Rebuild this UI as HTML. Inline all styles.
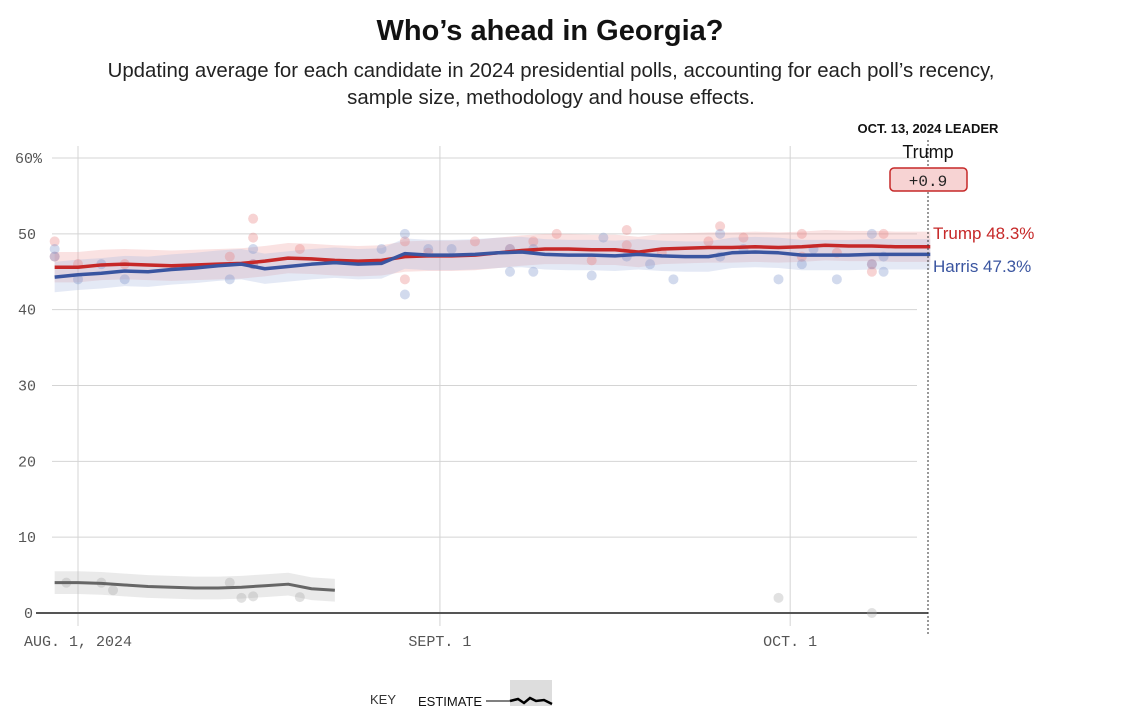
<!DOCTYPE html>
<html><head><meta charset="utf-8"><style>
body{margin:0;background:#fff;width:1129px;height:706px;overflow:hidden;font-family:"Liberation Sans",sans-serif}
svg{position:absolute;left:0;top:0}
</style></head><body>
<svg width="1129" height="706">
<text x="550" y="40" text-anchor="middle" font-size="29" font-weight="bold" fill="#121212">Who’s ahead in Georgia?</text>
<text x="551" y="77" text-anchor="middle" font-size="20.4" fill="#222">Updating average for each candidate in 2024 presidential polls, accounting for each poll’s recency,</text>
<text x="551" y="104" text-anchor="middle" font-size="20.4" fill="#222">sample size, methodology and house effects.</text>
<g id="grid"></g>
<g id="bands"></g>
<g id="dots"></g>
<g id="lines"></g>
<line x1="928" y1="140" x2="928" y2="636" stroke="#333" stroke-dasharray="2,2"/>
<text x="928" y="133" text-anchor="middle" font-size="13" font-weight="bold" fill="#121212">OCT. 13, 2024 LEADER</text>
<text x="928" y="158" text-anchor="middle" font-size="18" fill="#121212">Trump</text>
<rect x="890" y="168" width="77" height="23" rx="4" fill="#f7d3d3" stroke="#c62828" stroke-width="1.5"/>
<text x="928" y="186" text-anchor="middle" font-size="16" font-family="Liberation Mono,monospace" fill="#222">+0.9</text>
<text x="933" y="239" font-size="17" fill="#c62828">Trump 48.3%</text>
<text x="933" y="272" font-size="17" fill="#3a55a0">Harris 47.3%</text>
<text x="370" y="704" font-size="13" fill="#333">KEY</text>
<text x="418" y="706" font-size="13" fill="#121212">ESTIMATE</text>
<line x1="486" y1="701" x2="510" y2="701" stroke="#000"/>
<rect x="510" y="680" width="42" height="26" fill="#ddd"/>
<polyline points="510,701 518,699 524,703 530,698 536,701 544,700 552,704" fill="none" stroke="#000" stroke-width="2.5"/>
</svg>
<script>
const trumpAvg=[45.6,45.6,45.9,46.0,45.9,45.8,45.9,46.0,46.1,46.4,46.8,46.7,46.5,46.4,46.5,47.0,47.1,47.1,47.2,47.5,47.8,48.0,48.0,47.9,47.9,47.6,48.0,48.1,48.2,48.2,48.3,48.2,48.3,48.5,48.4,48.4,48.3,48.3];
const harrisAvg=[44.3,44.6,44.8,45.1,45.0,45.3,45.5,45.8,46.0,45.4,45.7,46.0,46.2,46.0,46.1,47.4,47.2,47.2,47.3,47.5,47.6,47.3,47.2,47.2,47.1,47.3,47.1,47.0,47.0,47.5,47.6,47.5,47.2,47.2,47.2,47.3,47.3,47.3];
const otherAvg=[4.0,4.0,3.9,3.7,3.5,3.4,3.3,3.3,3.4,3.6,3.8,3.2,3.0];
const trumpPolls=[[-2,49],[-2,47],[0,46],[4,46],[13,47],[15,52],[15,49.5],[15,46],[19,48],[28,49],[28,44],[30,47.5],[34,49],[37,48],[39,49],[41,50],[44,46.5],[47,50.5],[47,48.5],[50,47.5],[54,49],[55,51],[57,49.5],[62,50],[62,47],[65,47.5],[68,46],[68,45],[69,50]];
const harrisPolls=[[-2,48],[-2,47],[0,44],[2,46],[4,44],[13,44],[15,48],[15,46],[26,48],[28,50],[28,42],[30,48],[32,48],[37,48],[37,45],[39,48],[39,45],[44,44.5],[45,49.5],[47,47],[49,46],[51,44],[55,50],[55,47],[57,48],[60,44],[62,46],[63,48],[65,44],[68,50],[68,46],[69,47],[69,45]];
const otherPolls=[[-1,4],[2,4],[3,3],[13,4],[14,2],[15,2.2],[19,2.1],[60,2],[68,0]];
const yTicks=[0,10,20,30,40,50,60];
const xTickDays=[0,31,61];
const xTickLabels=["AUG. 1, 2024","SEPT. 1","OCT. 1"];
const ns="http://www.w3.org/2000/svg";
const X=d=>78+d*11.675, Y=v=>613-v*7.583;
function mk(g,tag,attrs){const e=document.createElementNS(ns,tag);for(const k in attrs)e.setAttribute(k,attrs[k]);document.getElementById(g).appendChild(e);return e;}
yTicks.forEach((t,i)=>{
  if(t>0){const l=mk('grid','line',{x1:52,x2:917,y1:Y(t),y2:Y(t),stroke:'#d4d4d4'});
  
  }
  const tx=mk('grid','text',{x:t==60?15:(t==0?24:18),y:Y(t)+5,'font-size':15,fill:'#555','font-family':'Liberation Mono,monospace'});
  tx.textContent=t==60?'60%':String(t);
  
  
});
xTickDays.forEach((d,i)=>{
  const l=mk('grid','line',{x1:X(d),x2:X(d),y1:146,y2:626,stroke:'#d4d4d4'});
  
  
  const tx=mk('grid','text',{x:i==0?24:X(d),y:646,'font-size':15,fill:'#555','text-anchor':i==0?'start':'middle','font-family':'Liberation Mono,monospace'});
  tx.textContent=xTickLabels[i];
  
  
});
const ax=mk('grid','line',{x1:36,x2:928,y1:613,y2:613,stroke:'#555','stroke-width':2});


function series(arr,col,bandCol,w,name,hw){
  const pts=arr.map((v,i)=>{const d=i==arr.length-1&&arr.length>20?73:-2+i*2;return [X(d),v];});
  const up=pts.map(p=>p[0]+','+Y(p[1]+hw)).join(' '),dn=pts.slice().reverse().map(p=>p[0]+','+Y(p[1]-hw)).join(' ');
  const b=mk('bands','polygon',{points:up+' '+dn,fill:bandCol,'fill-opacity':0.3});
  
  
  const l=mk('lines','polyline',{points:pts.map(p=>p[0]+','+Y(p[1])).join(' '),fill:'none',stroke:col,'stroke-width':w,'stroke-linejoin':'round'});
  
  
}
function dots(arr,col,name){arr.forEach(p=>{const c=mk('dots','circle',{cx:X(p[0]),cy:Y(p[1]),r:5,fill:col,'fill-opacity':0.35});
  
  });}
series(otherAvg,'#666','#bbb',3,'other',1.5);
series(trumpAvg,'#c62828','#f0a0a0',3.5,'trump',2);
series(harrisAvg,'#3a55a0','#a6b6de',3.5,'harris',2);
dots(trumpPolls,'#e88080','trump');
dots(harrisPolls,'#7f95cc','harris');
dots(otherPolls,'#aaa','other');
</script>
</body></html>
